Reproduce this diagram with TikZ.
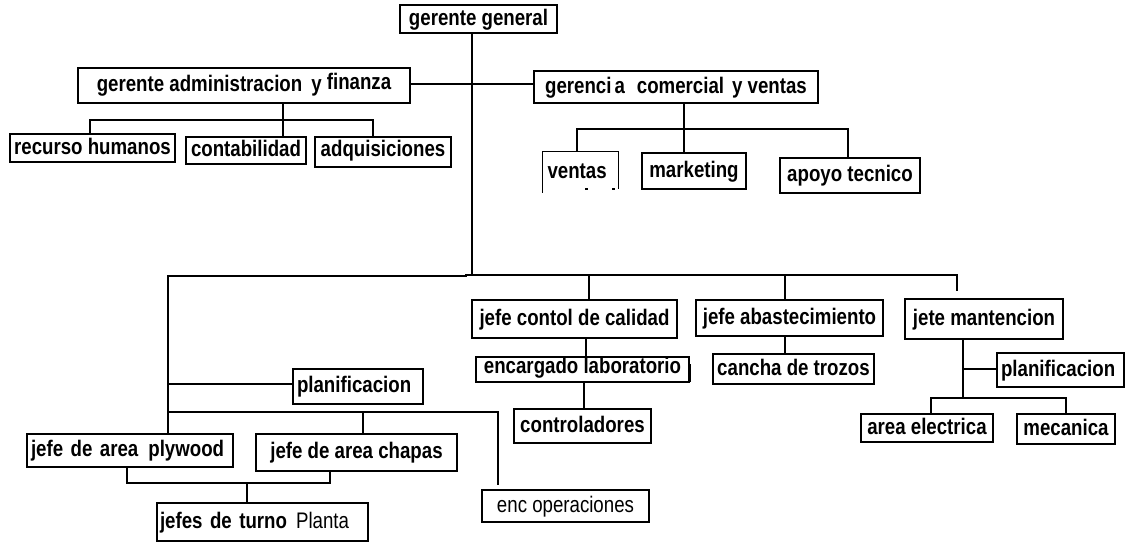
\documentclass[tikz,border=0pt]{standalone}
\usepackage{fontspec}
\setmainfont{Liberation Sans}[FakeStretch=0.83]
\newcommand\bxfont{\fontsize{22.5}{24}\selectfont\bfseries}
\newcommand\rgfont{\fontsize{22.5}{24}\selectfont\mdseries}
% Org box: [options]{name}{x0}{y0}{x1}{y1}{text}, coordinates in pixels from the top left
\newcommand\orgbox[7][]{%
  \node[box, minimum width={(#5-#3)*1pt}, minimum height={(#6-#4)*1pt}, #1]
    (#2) at ({(#3+#5)/2},{(#4+#6)/2}) {#7};}
\tikzset{
  box/.style={draw, line width=1.2pt, inner sep=0pt, font=\bxfont,
              text height=16.5pt, text depth=4.5pt},
  conn/.style={line width=2.6pt},
}
\begin{document}
\begin{tikzpicture}[x=1pt, y=-1pt]
\fill[white] (0,0) rectangle (1126,542);
\useasboundingbox (0,0) rectangle (1126,542);

% top management
\orgbox{gg}{400}{5}{557}{33}{gerente general}
\orgbox{adm}{78}{68}{410}{103}{gerente administracion\hspace{9pt}y \raisebox{2pt}{finanza}}
\orgbox{gcv}{534}{71}{818}{103}{gerenci\hspace{3pt}a\hspace{12pt}comercial\hspace{8pt}y ventas}

% administration and finance
\orgbox[text depth=3pt]{rh}{10}{134}{175}{162}{recurso humanos}
\orgbox{cont}{186}{137}{306}{164}{contabilidad}
\orgbox[text depth=7pt]{adq}{315}{137}{451}{167}{adquisiciones}

% commercial and sales
\orgbox[draw=none, text width=66pt, align=left]{ven}{543}{152}{618}{192}{ventas}
\draw[line width=1.2pt] (ven.south west) |- (ven.north east) -- ([yshift=4pt]ven.south east);
\fill (585,188) rectangle (588,190);
\fill (612,188) rectangle (615,190);
\orgbox{mkt}{642}{153}{746}{189}{marketing}
\orgbox{apo}{780}{158}{920}{193}{apoyo tecnico}

% production
\orgbox{jcc}{472}{300}{677}{338}{jefe contol de calidad}
\orgbox{jab}{696}{300}{883}{336}{jefe abastecimiento}
\orgbox{jm}{905}{299}{1063}{339}{jete mantencion}
\orgbox[text depth=8pt]{enc}{476}{357}{689}{382}{encargado laboratorio}
\orgbox{ctrl}{514}{409}{651}{443}{controladores}
\orgbox{cdt}{713}{354}{874}{384}{cancha de trozos}
\orgbox[text width=119pt, align=left]{plan2}{997}{353}{1124}{387}{planificacion}
\orgbox{ae}{861}{414}{993}{442}{area electrica}
\orgbox{mec}{1017}{414}{1115}{444}{mecanica}

\orgbox[text width=122pt, align=left]{plan1}{293}{369}{423}{404}{planificacion}
\orgbox[text width=198pt, align=left]{ply}{27}{434}{233}{467}{jefe de area\hspace{10pt}plywood}
\orgbox{chap}{256}{434}{457}{471}{jefe de area chapas}
\orgbox[text width=205pt, align=left]{jt}{157}{503}{368}{541}{jefes de turno\hspace{9pt}{\mdseries Planta}}
\orgbox[font=\rgfont]{eo}{482}{490}{649}{522}{enc operaciones}

% main trunk
\coordinate (tk) at (472,275);
\draw[conn] (tk |- gg.south) -- (tk);
\coordinate (hA) at (472,84);
\draw[conn] (adm.east |- hA) -- (gcv.west |- hA);

% administration branch
\coordinate (aB) at (283,120);
\coordinate (aL) at (90,120);
\coordinate (aR) at (373,120);
\draw[conn] (aB |- adm.south) -- (aB) -- (aB |- cont.north);
\draw[conn] (aL |- rh.north) -- (aL) -- (aR) -- (aR |- adq.north);

% commercial branch
\coordinate (cB) at (684,129);
\coordinate (cL) at (577,129);
\coordinate (cR) at (848,129);
\draw[conn] (cB |- gcv.south) -- (cB) -- (cB |- mkt.north);
\draw[conn] (cL |- ven.north) -- (cL) -- (cR) -- (cR |- apo.north);

% right production bus
\coordinate (rE) at (957,275);
\coordinate (rEnd) at (957,291);
\coordinate (q1) at (589,275);
\coordinate (q2) at (785,275);
\draw[conn] (tk) -- (rE) -- (rEnd);
\draw[conn] (q1) -- (q1 |- jcc.north);
\draw[conn] (q2) -- (q2 |- jab.north);

% quality control
\coordinate (k1) at (586,362);
\draw[conn] (k1 |- jcc.south) -- (k1);
\coordinate (k2) at (584,395);
\draw[conn] (k2 |- enc.south) -- (k2 |- ctrl.north);
\draw[line width=2.2pt] ([yshift=1pt]enc.south east) -- ++(0,-18);

% supply
\coordinate (k3) at (785,345);
\draw[conn] (k3 |- jab.south) -- (k3 |- cdt.north);

% maintenance
\coordinate (m0) at (963,398);
\coordinate (m1) at (963,369);
\coordinate (mL) at (931,398);
\coordinate (mR) at (1066,398);
\draw[conn] (m0 |- jm.south) -- (m0);
\draw[conn] (m1) -- (plan2.west |- m1);
\draw[conn] (mL |- ae.north) -- (mL) -- (mR) -- (mR |- mec.north);

% left production branch
\coordinate (lC) at (168,276);
\coordinate (lJ) at (466,276);
\draw[conn] (tk) -- (tk -| lJ) -- (lJ) -- (lC) -- (lC |- ply.north);
\coordinate (lP) at (168,384);
\draw[conn] (lP) -- (plan1.west |- lP);
\coordinate (lB) at (168,412);
\coordinate (lBe) at (498,412);
\coordinate (lEnd) at (498,485);
\coordinate (lCh) at (363,412);
\draw[conn] (lB) -- (lBe) -- (lEnd);
\draw[conn] (lCh) -- (lCh |- chap.north);
\coordinate (tL) at (127,483);
\coordinate (tR) at (330,483);
\coordinate (tM) at (247,483);
\draw[conn] (tL |- ply.south) -- (tL) -- (tR) -- (tR |- chap.south);
\draw[conn] (tM) -- (tM |- jt.north);
\end{tikzpicture}
\end{document}
